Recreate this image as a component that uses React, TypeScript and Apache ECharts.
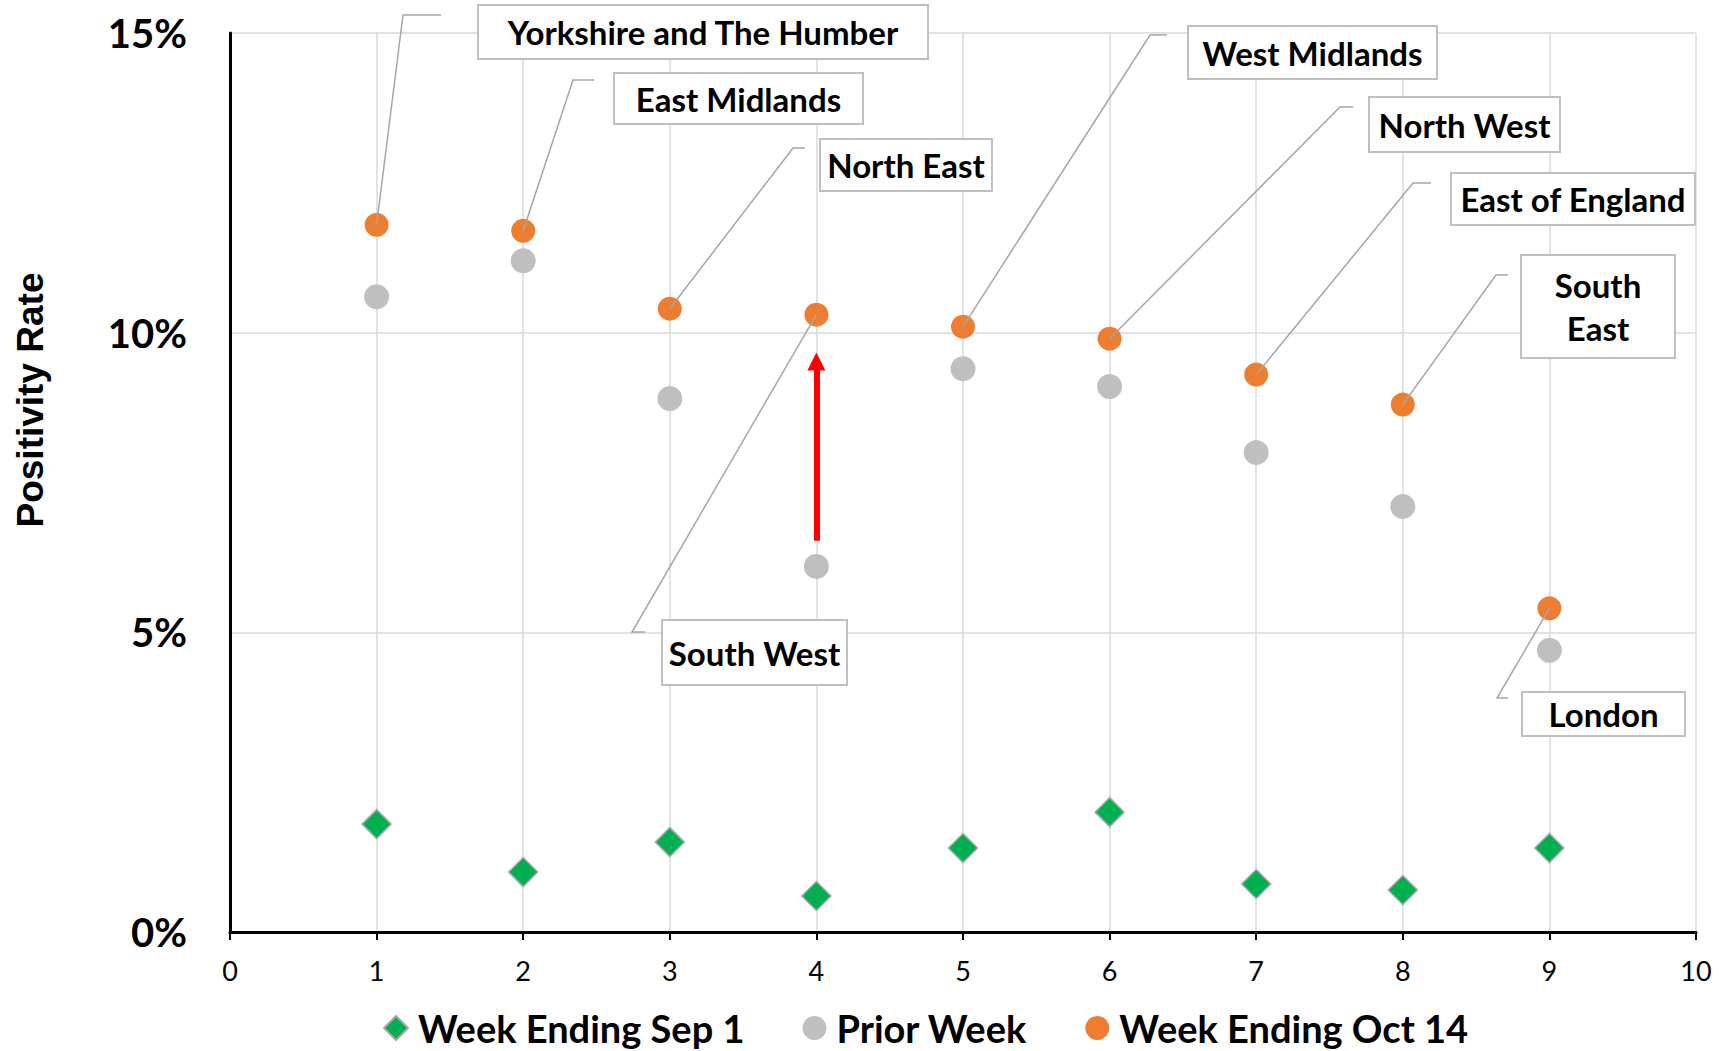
import React, { useEffect, useRef } from "react";
import * as echarts from "echarts";

// ---- data ----
const regions = [
  "Yorkshire and The Humber",
  "East Midlands",
  "North East",
  "South West",
  "West Midlands",
  "North West",
  "East of England",
  "South\nEast",
  "London",
];
const regionIndex = [1, 2, 3, 4, 5, 6, 7, 8, 9];
const weekEndingSep1 = [1.8, 1.0, 1.5, 0.6, 1.4, 2.0, 0.8, 0.7, 1.4];
const priorWeek = [10.6, 11.2, 8.9, 6.1, 9.4, 9.1, 8.0, 7.1, 4.7];
const weekEndingOct14 = [11.8, 11.7, 10.4, 10.3, 10.1, 9.9, 9.3, 8.8, 5.4];
const seriesNames = ["Week Ending Sep 1", "Prior Week", "Week Ending Oct 14"];
const yTickValues = [0, 5, 10, 15];
const xTickValues = [0, 1, 2, 3, 4, 5, 6, 7, 8, 9, 10];
// red arrow annotation (region 4): from / to, in % units
const arrowRegion = 4;
const arrowFrom = 6.53;
const arrowTo = 9.52;

// ---- callout layout (pixels) ----
const calloutLayout = [
  { box: [478, 5, 450, 54], elbow: [403, 15], end: [441, 15] },
  { box: [614, 73, 249, 51], elbow: [573, 80], end: [594, 80] },
  { box: [820, 139, 172, 52], elbow: [793, 148], end: [805, 148] },
  { box: [662, 620, 185, 65], elbow: [632, 632], end: [645, 632] },
  { box: [1188, 26, 249, 53], elbow: [1150, 35], end: [1167, 35] },
  { box: [1369, 97, 191, 55], elbow: [1340, 107], end: [1353, 107] },
  { box: [1451, 173, 244, 52], elbow: [1413, 183], end: [1431, 183] },
  { box: [1521, 255, 154, 103], elbow: [1496, 275], end: [1508, 275] },
  { box: [1522, 692, 163, 44], elbow: [1497, 698], end: [1508, 698] },
];

const FONT = "Lato";

export default function App() {
  const ref = useRef<HTMLDivElement>(null);

  useEffect(() => {
    document.body.style.margin = "0";
    const el = ref.current;
    if (!el) return;
    const chart = echarts.init(el, null, { renderer: "svg" });

    const toPairs = (vals: number[]) => vals.map((v, i) => [regionIndex[i], v]);

    const option: any = {
      animation: false,
      backgroundColor: "#ffffff",
      textStyle: { fontFamily: FONT },
      grid: { left: 230, right: 25, top: 33, bottom: 119, containLabel: false },
      xAxis: {
        type: "value",
        min: xTickValues[0],
        max: xTickValues[xTickValues.length - 1],
        interval: 1,
        axisLine: { show: true, onZero: false, lineStyle: { color: "#000", width: 3 } },
        axisTick: { show: true, length: 8, lineStyle: { color: "#000", width: 2 } },
        axisLabel: { color: "#000", fontSize: 27, fontFamily: FONT, margin: 25 },
        splitLine: { show: true, lineStyle: { color: "#d9d9d9", width: 1.5 } },
      },
      yAxis: {
        type: "value",
        min: yTickValues[0],
        max: yTickValues[yTickValues.length - 1],
        interval: 5,
        axisLine: { show: true, lineStyle: { color: "#000", width: 3 } },
        axisTick: { show: false },
        axisLabel: {
          color: "#000",
          fontSize: 40,
          fontWeight: "bold",
          fontFamily: FONT,
          margin: 43,
          formatter: (v: number) => `${v}%`,
        },
        splitLine: { show: true, lineStyle: { color: "#d9d9d9", width: 1.5 } },
      },
      legend: {
        left: 383,
        top: 1009,
        padding: 0,
        itemGap: 58,
        itemWidth: 24,
        itemHeight: 24,
        textStyle: {
          color: "#000",
          fontSize: 38,
          fontWeight: "bold",
          fontFamily: FONT,
          padding: [0, 0, 0, 5],
        },
        data: seriesNames,
      },
      series: [
        {
          name: seriesNames[0],
          type: "scatter",
          symbol: "diamond",
          symbolSize: 29,
          itemStyle: { color: "#00b050", borderColor: "#a6a6a6", borderWidth: 1.5, opacity: 1 },
          data: toPairs(weekEndingSep1),
          z: 3,
        },
        {
          name: seriesNames[1],
          type: "scatter",
          symbol: "circle",
          symbolSize: 25,
          itemStyle: { color: "#bfbfbf", opacity: 1 },
          data: toPairs(priorWeek),
          z: 3,
        },
        {
          name: seriesNames[2],
          type: "scatter",
          symbol: "circle",
          symbolSize: 24,
          itemStyle: { color: "#ed7d31", opacity: 1 },
          data: toPairs(weekEndingOct14),
          z: 4,
          markLine: {
            silent: true,
            animation: false,
            symbol: ["none", "triangle"],
            symbolSize: [18, 18],
            label: { show: false },
            lineStyle: { color: "#ff0000", width: 6, type: "solid" },
            emphasis: { disabled: true },
            data: [[{ coord: [arrowRegion, arrowFrom] }, { coord: [arrowRegion, arrowTo] }]],
          },
        },
      ],
    };

    chart.setOption(option);

    const graphics: any[] = [
      {
        type: "text",
        x: 30,
        y: 400,
        rotation: Math.PI / 2,
        z: 100,
        style: {
          text: "Positivity Rate",
          font: "bold 37px 'Liberation Sans', Arial, sans-serif",
          fill: "#000",
          align: "center",
          verticalAlign: "middle",
          textAlign: "center",
          textVerticalAlign: "middle",
        },
      },
    ];

    regions.forEach((name, i) => {
      const p = chart.convertToPixel({ gridIndex: 0 }, [regionIndex[i], weekEndingOct14[i]]) as number[];
      const L = calloutLayout[i];
      const [bx, by, bw, bh] = L.box;
      graphics.push({
        type: "polyline",
        z: 100,
        shape: { points: [p, L.elbow, L.end] },
        style: { stroke: "#a6a6a6", lineWidth: 1.5, fill: null },
      });
      graphics.push({
        type: "rect",
        z: 100,
        shape: { x: bx, y: by, width: bw, height: bh },
        style: { fill: "#ffffff", stroke: "#bfbfbf", lineWidth: 2 },
      });
      graphics.push({
        type: "text",
        z: 101,
        x: bx + bw / 2,
        y: by + bh / 2,
        style: {
          text: name,
          font: `bold 33px ${FONT}`,
          lineHeight: 43,
          fill: "#000",
          align: "center",
          verticalAlign: "middle",
          textAlign: "center",
          textVerticalAlign: "middle",
        },
      });
    });

    chart.setOption({ graphic: graphics });

    return () => {
      chart.dispose();
    };
  }, []);

  return <div ref={ref} style={{ width: 1721, height: 1051 }} />;
}
